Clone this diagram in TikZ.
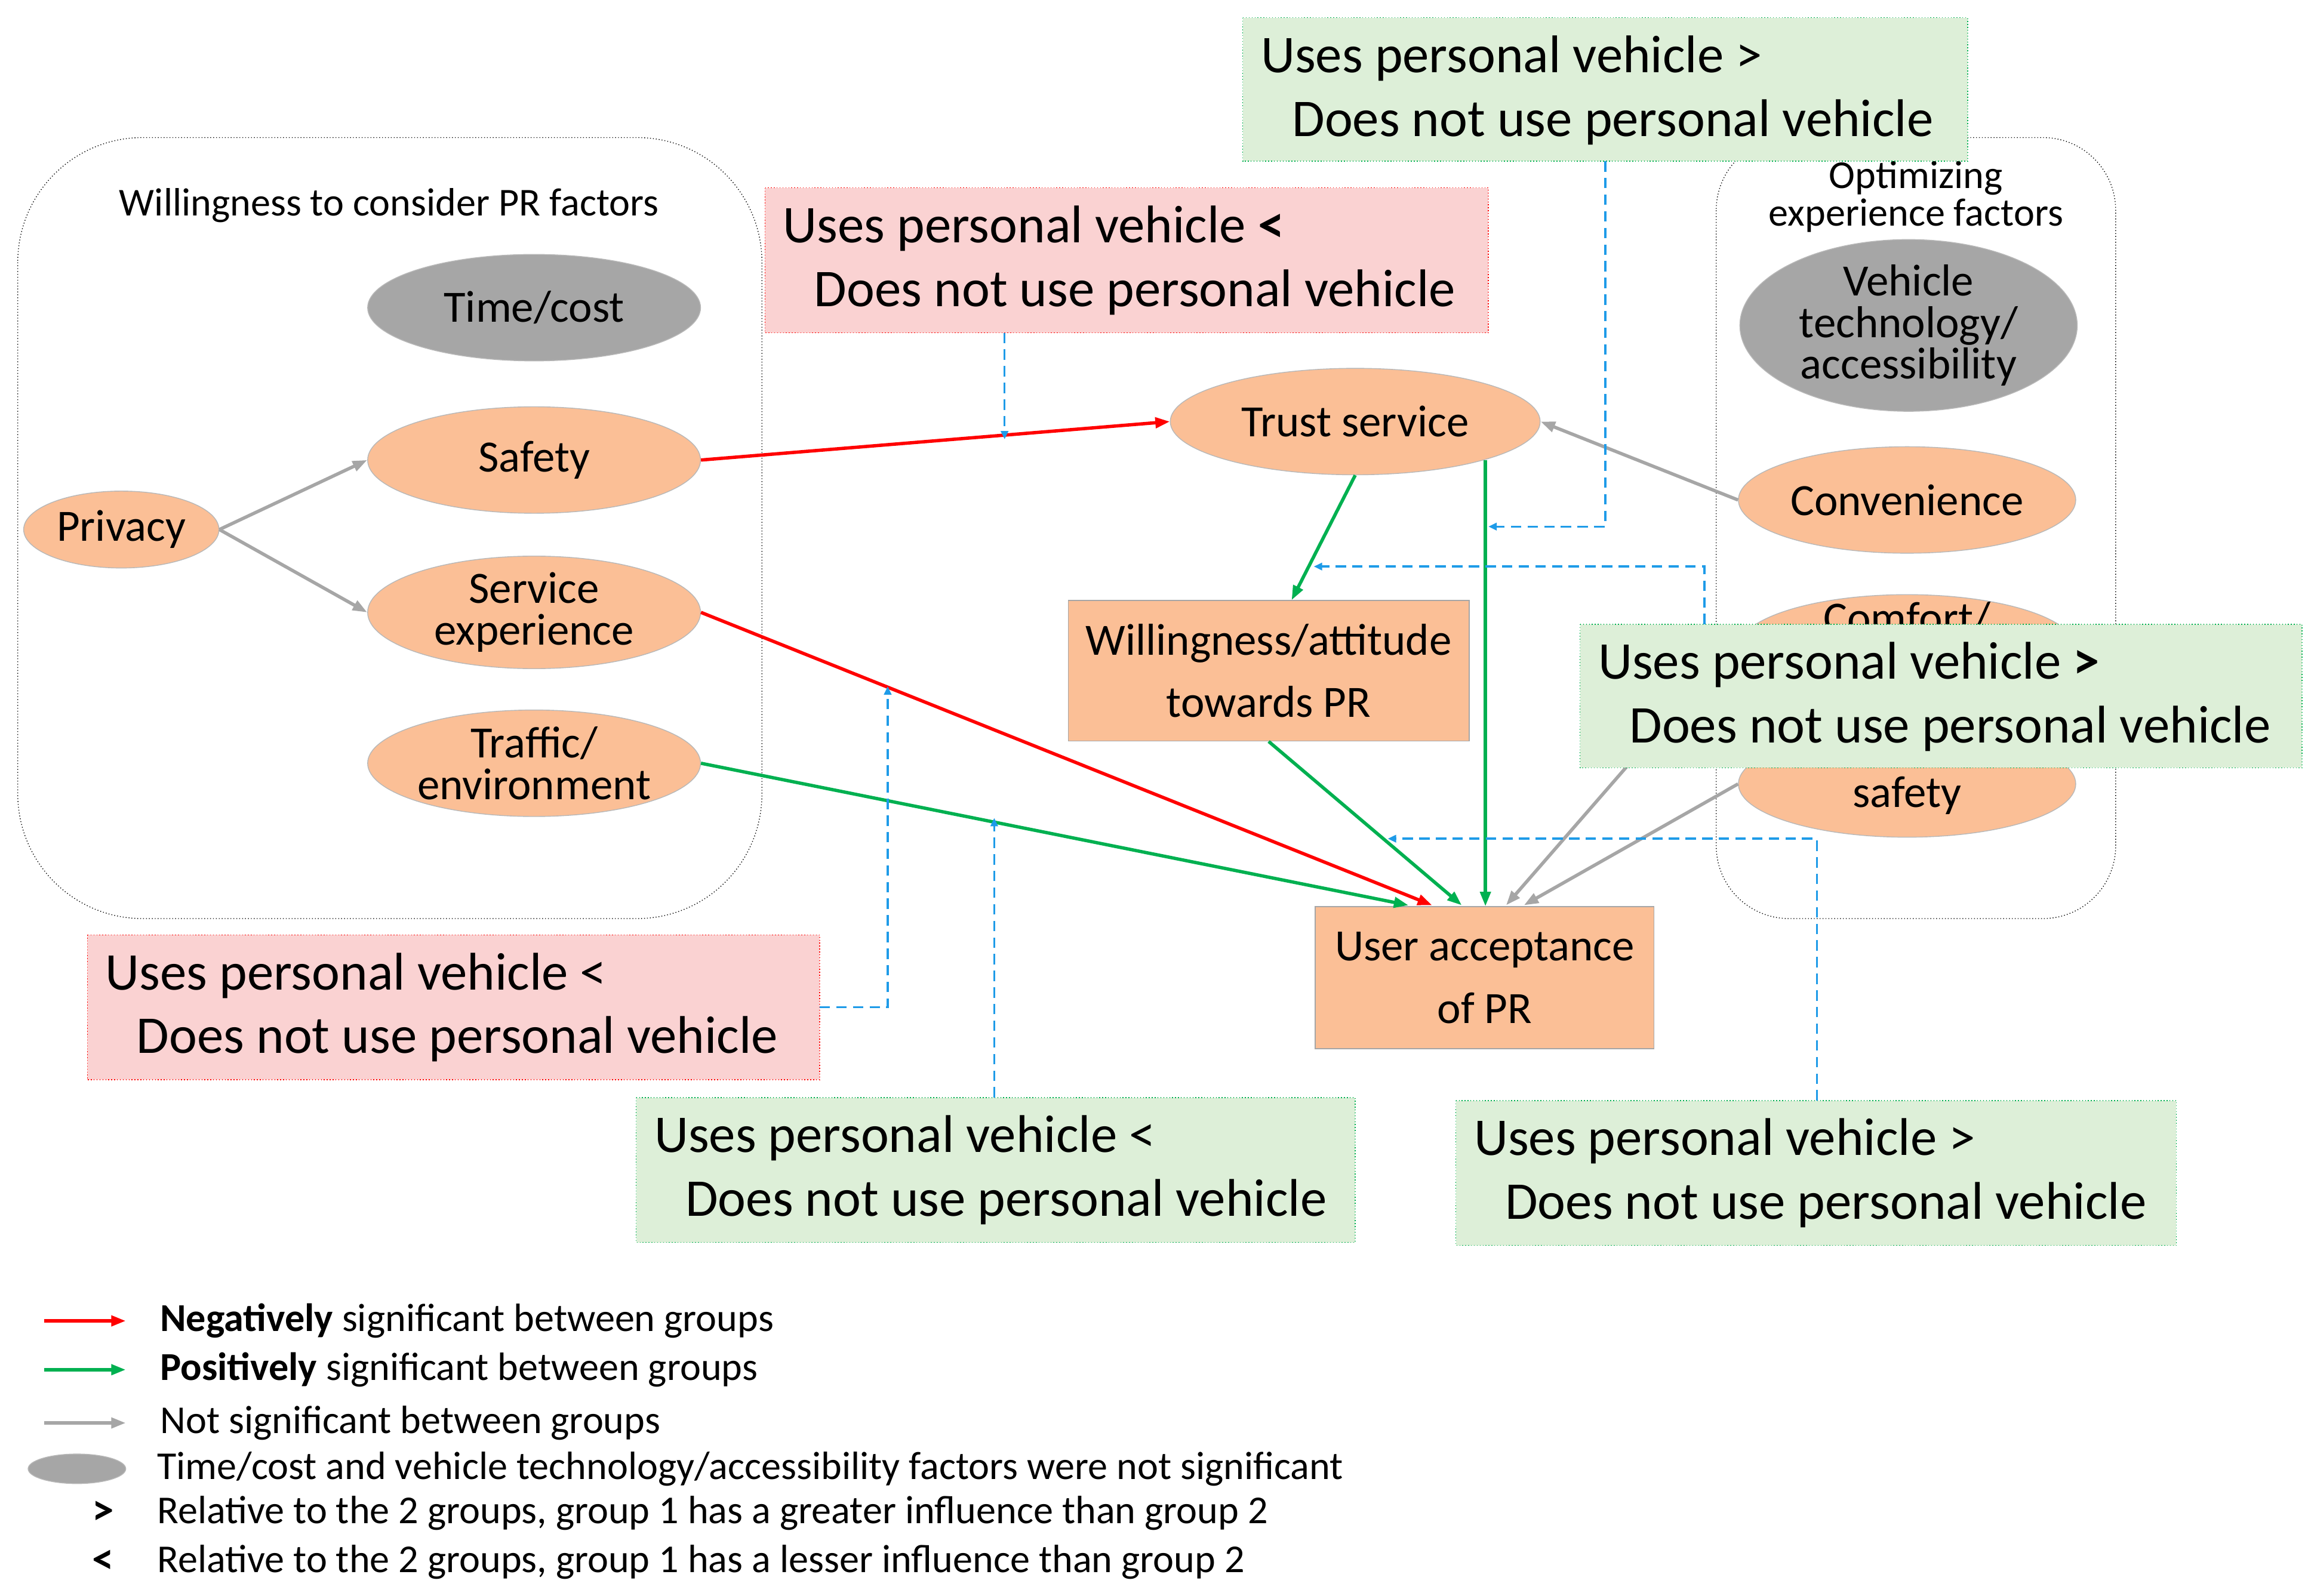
\documentclass[tikz,border=0pt]{standalone}
\usepackage{fontspec}
\setmainfont{Carlito}
\usetikzlibrary{shapes.geometric,arrows.meta}
\definecolor{org}{HTML}{FBBF96}
\definecolor{gry}{HTML}{A6A6A6}
\definecolor{pnk}{HTML}{FAD2D2}
\definecolor{grn}{HTML}{DDEFD8}
\definecolor{gline}{HTML}{00B050}
\definecolor{blu}{HTML}{1E9BE8}
\begin{document}
\begin{tikzpicture}[x=0.025cm,y=-0.025cm,
 ell/.style={ellipse,draw=gry!80,fill=org,inner sep=0pt,font=\fontsize{21.5}{20}\selectfont,align=center},
 gell/.style={ellipse,draw=gry!80,fill=gry,inner sep=0pt,font=\fontsize{21.5}{20}\selectfont,align=center},
 box/.style={draw=gry,fill=org,font=\fontsize{21.5}{30}\selectfont,align=center,inner sep=0pt},
 cmp/.style={font=\fontsize{25.5}{30.5}\selectfont,align=left,inner sep=0pt,anchor=north west},
 gb/.style={draw=gline,densely dotted,fill=grn},
 pb/.style={draw=red,densely dotted,fill=pnk},
 red/.style={draw=red,line width=1.6pt,-{Triangle[length=7pt,width=5pt]}},
 grnA/.style={draw=gline,line width=1.6pt,-{Triangle[length=7pt,width=5pt]}},
 grA/.style={draw=gry,line width=1.6pt,-{Triangle[length=7pt,width=5pt]}},
 bd/.style={draw=blu,line width=1pt,dash pattern=on 5pt off 3pt,-{Triangle[length=4pt,width=3.5pt]}},
 lg/.style={font=\fontsize{19}{20}\selectfont,anchor=west,inner sep=0pt}]
\useasboundingbox (0,0) rectangle (1560,1078.6);
% containers
\draw[densely dotted,rounded corners=60pt] (12,93) rectangle (515,621);
\node[font=\fontsize{19}{19}\selectfont] (t1) at (263,139) {Willingness to consider PR factors};
\draw[densely dotted,rounded corners=35pt] (1160,93) rectangle (1430,621);
\node[font=\fontsize{19}{18}\selectfont,align=center] (t2) at (1295,133) {Optimizing\\experience factors};
% ellipses
\node[gell,minimum width=225*0.025cm,minimum height=72*0.025cm] (tc) at (361,208) {Time/cost};
\node[ell,minimum width=225*0.025cm,minimum height=72*0.025cm] (saf) at (361,311) {Safety};
\node[ell,minimum width=132*0.025cm,minimum height=52*0.025cm] (pri) at (82,358) {Privacy};
\node[ell,minimum width=225*0.025cm,minimum height=72*0.025cm] (se) at (361,414) {Service\\experience};
\node[ell,minimum width=225*0.025cm,minimum height=72*0.025cm] (tr) at (361,516) {Traffic/\\environment};
\node[gell,minimum width=228*0.025cm,minimum height=108*0.025cm] (vt) at (1290,220) {Vehicle\\technology/\\accessibility};
\node[ell,minimum width=228*0.025cm,minimum height=72*0.025cm] (cv) at (1289,338) {Convenience};
\node[ell,minimum width=228*0.025cm,minimum height=72*0.025cm] (cf) at (1289,438) {};
\node[font=\fontsize{21.5}{20}\selectfont] at (1289,418) {Comfort/};
\node[ell,minimum width=228*0.025cm,minimum height=72*0.025cm] (sf) at (1289,530) {};
\node[font=\fontsize{21.5}{20}\selectfont] at (1289,538) {safety};
\node[ell,minimum width=250*0.025cm,minimum height=72*0.025cm] (ts) at (916,285) {Trust service};
\node[box,minimum width=271*0.025cm,minimum height=95*0.025cm] (wa) at (857.5,453.5) {Willingness/attitude\\towards PR};
\node[box,minimum width=229*0.025cm,minimum height=96*0.025cm] (ua) at (1003.5,661) {User acceptance\\of PR};
% arrows
\draw[grA] (pri.east) -- (saf.west);
\draw[grA] (pri.east) -- (se.west);
\draw[red] (saf.east) -- (ts.west);
\draw[red] (se.east) -- (968,612);
\draw[grnA] (tr.east) -- (952,612);
\draw[grnA] (ts.south) -- (wa.north -| 873,0);
\draw[grnA] (1004,311) -- (ua.north -| 1004,0);
\draw[grnA] (wa.south) -- (988,612);
\draw[grA] (cv.west) -- (ts.east);
\draw[grA] (1105,512) -- (1018,612);
\draw[grA] (sf.west) -- (1030,612);
% comparison boxes
\draw[gb] (840,12) rectangle (1330,109);
\node[cmp] (g1) at (852,24) {Uses personal vehicle >\\\hspace*{15pt}Does not use personal vehicle};
\draw[pb] (517,127) rectangle (1006,225);
\node[cmp] (p1) at (529,139) {Uses personal vehicle \textbf{<}\\\hspace*{15pt}Does not use personal vehicle};
\draw[gb] (1068,422) rectangle (1556,519);
\node[cmp] (g2) at (1080,434) {Uses personal vehicle \textbf{>}\\\hspace*{15pt}Does not use personal vehicle};
\draw[pb] (59,632) rectangle (554,730);
\node[cmp] (p2) at (71,644) {Uses personal vehicle <\\\hspace*{15pt}Does not use personal vehicle};
\draw[gb] (430,742) rectangle (916,840);
\node[cmp] (g3) at (442,754) {Uses personal vehicle <\\\hspace*{15pt}Does not use personal vehicle};
\draw[gb] (984,744) rectangle (1471,842);
\node[cmp] (g4) at (996,756) {Uses personal vehicle >\\\hspace*{15pt}Does not use personal vehicle};
% dashed influences
\draw[bd] (679,225) -- (679,297);
\draw[bd] (1085,109) -- (1085,356) -- (1006,356);
\draw[bd] (1152,422) -- (1152,383) -- (888,383);
\draw[bd] (554,681) -- (600,681) -- (600,464);
\draw[bd] (672,742) -- (672,553);
\draw[bd] (1228,744) -- (1228,567) -- (938,567);
% legend
\draw[red] (30,893) -- (85,893);
\node[lg] at (108,893) {\textbf{Negatively} significant between groups};
\draw[grnA] (30,926) -- (85,926);
\node[lg] at (108,926) {\textbf{Positively} significant between groups};
\draw[grA] (30,962) -- (85,962);
\node[lg] at (108,962) {Not significant between groups};
\node[gell,minimum width=66*0.025cm,minimum height=20*0.025cm] at (52,993) {};
\node[lg] at (106,993) {Time/cost and vehicle technology/accessibility factors were not significant};
\node[lg,font=\fontsize{21}{20}\selectfont\bfseries] at (62,1023) {>};
\node[lg] at (106,1023) {Relative to the 2 groups, group 1 has a greater influence than group 2};
\node[lg,font=\fontsize{21}{20}\selectfont\bfseries] at (62,1056) {<};
\node[lg] at (106,1056) {Relative to the 2 groups, group 1 has a lesser influence than group 2};
\end{tikzpicture}
\end{document}
